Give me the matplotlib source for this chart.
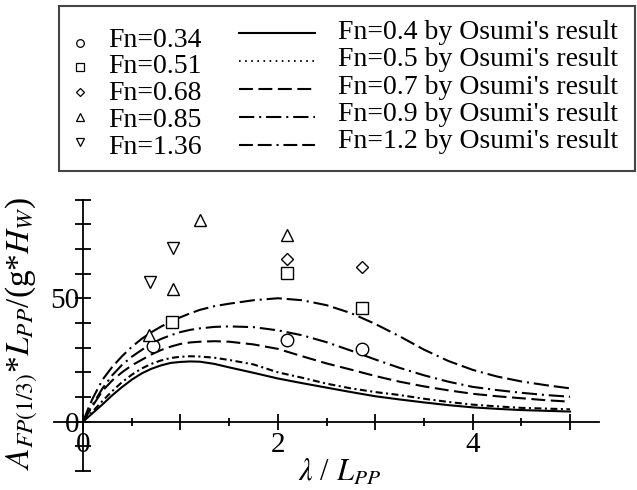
import matplotlib
matplotlib.use("Agg")
import matplotlib.pyplot as plt
from matplotlib.patches import Rectangle
import numpy as np

plt.rcParams['font.family'] = ['Liberation Serif', 'DejaVu Serif']
plt.rcParams['mathtext.fontset'] = 'stix'
plt.rcParams['lines.scale_dashes'] = False

# experiment points (lambda/Lpp, A*Lpp/(g*Hw))
exp_labels = ["Fn=0.34", "Fn=0.51", "Fn=0.68", "Fn=0.85", "Fn=1.36"]
exp_markers = ["o", "s", "D", "^", "v"]
lam_034 = [0.72, 2.09, 2.86]
amp_034 = [30.8, 33.1, 29.3]
lam_051 = [0.91, 2.09, 2.86]
amp_051 = [40.5, 60.1, 45.9]
lam_068 = [2.09, 2.86]
amp_068 = [65.8, 62.6]
lam_085 = [0.68, 0.92, 1.20, 2.09]
amp_085 = [35.1, 53.6, 81.7, 75.6]
lam_136 = [0.69, 0.92]
amp_136 = [56.7, 70.3]

# Osumi's result curves
lam_osumi = [0, 0.05, 0.1, 0.2, 0.3, 0.4, 0.5, 0.6, 0.7, 0.8, 0.9, 1.0, 1.1, 1.2, 1.35,
             1.5, 1.75, 2.0, 2.25, 2.5, 2.75, 3.0, 3.25, 3.5, 3.75, 4.0, 4.25, 4.5, 4.75, 5.0]
osumi_04 = [0, 1.8, 3.5, 7.0, 10.7, 14.0, 17.0, 19.5, 21.4, 22.8, 23.8, 24.2, 24.4, 24.3, 23.4,
            22.0, 19.8, 17.5, 15.6, 13.8, 12.0, 10.3, 9.0, 7.8, 6.7, 5.8, 5.2, 4.7, 4.4, 4.1]
osumi_05 = [0, 2.1, 4.2, 8.4, 12.4, 16.0, 19.0, 21.5, 23.4, 24.8, 25.8, 26.3, 26.5, 26.4, 25.9,
            25.0, 23.2, 20.0, 17.8, 15.4, 13.5, 12.0, 10.8, 9.3, 8.0, 6.9, 6.2, 5.6, 5.3, 5.0]
osumi_07 = [0, 3.3, 6.5, 12.5, 16.7, 20.0, 22.8, 25.0, 27.2, 29.0, 30.4, 31.5, 32.1, 32.4, 32.6,
            32.4, 31.3, 29.5, 26.5, 23.6, 21.1, 18.5, 16.2, 14.3, 12.7, 11.3, 10.3, 9.5, 8.7, 8.1]
osumi_09 = [0, 3.6, 7.0, 13.5, 18.8, 23.0, 26.3, 29.0, 31.5, 33.5, 35.0, 36.3, 37.2, 37.8, 38.4,
            38.6, 38.3, 37.0, 35.0, 32.2, 28.8, 25.2, 21.8, 18.8, 16.2, 14.1, 12.8, 11.7, 10.8, 10.1]
osumi_12 = [0, 5.0, 9.5, 17.0, 22.2, 26.5, 30.3, 33.5, 36.2, 38.5, 40.5, 42.3, 43.9, 45.3, 46.8,
            47.8, 49.2, 50.0, 49.2, 47.2, 44.0, 39.6, 34.6, 29.2, 24.6, 21.0, 18.3, 16.3, 14.8, 13.5]
osumi_labels = ["Fn=0.4 by Osumi's result", "Fn=0.5 by Osumi's result",
                "Fn=0.7 by Osumi's result", "Fn=0.9 by Osumi's result",
                "Fn=1.2 by Osumi's result"]

exp_x = [lam_034, lam_051, lam_068, lam_085, lam_136]
exp_y = [amp_034, amp_051, amp_068, amp_085, amp_136]
osumi_y = [osumi_04, osumi_05, osumi_07, osumi_09, osumi_12]

curve_styles = ['-', (0, (5, 2.5, 1.5, 2.5)), (0, (10, 4)),
                (0, (11, 3.5, 1.5, 3.5)), (0, (11, 3.5, 11, 3.5, 1.5, 3.5))]
legend_styles = ['-', (0, (1.2, 3.2)), (0, (10, 4)),
                 (0, (11, 3.5, 1.5, 3.5)), (0, (10, 3.5, 10, 3.5, 1.5, 3.5))]
exp_ms = [9, 8, 6.5, 9, 9]

fig = plt.figure(figsize=(6.37, 4.9), dpi=100)
ax = fig.add_axes([0.0386, 0.0135, 0.948, 0.6045])

for ys, st in zip(osumi_y, curve_styles):
    ax.plot(lam_osumi, ys, color='black', lw=1.5, linestyle=st)
for xs, ys, m, ms in zip(exp_x, exp_y, exp_markers, exp_ms):
    ax.plot(xs, ys, linestyle='none', marker=m, ms=ms, mfc='white',
            mec='black', mew=1.0)

ax.set_xlim(-0.6, 5.6)
ax.set_ylim(-25, 95)
for s in ['top', 'right']:
    ax.spines[s].set_visible(False)
ax.spines['left'].set_position(('data', 0))
ax.spines['bottom'].set_position(('data', 0))
ax.spines['left'].set_bounds(-20, 90)
ax.spines['bottom'].set_bounds(-0.3, 5.3)
for s in ['left', 'bottom']:
    ax.spines[s].set_linewidth(1.3)
ax.set_facecolor('none')

ax.set_xticks(np.arange(0, 6, 1))
ax.set_xticklabels(['0', '', '2', '', '4', ''])
ax.set_xticks(np.arange(0.5, 5, 1), minor=True)
ax.set_yticks(np.arange(-20, 100, 10))
ax.set_yticklabels(['' if v not in (0, 50) else str(v) for v in range(-20, 100, 10)])
ax.tick_params(axis='x', which='major', direction='inout', length=11.5, width=1.3,
               labelsize=21, pad=1.5)
ax.tick_params(axis='x', which='minor', direction='inout', length=6, width=1.3)
ax.tick_params(axis='y', direction='inout', length=11, width=1.3, labelsize=21, pad=-2.6)

fig.text(22 / 637, 1 - 333 / 490, r'$A_{FP(1/3)}$*$L_{PP}$/(g*$H_W$)',
         rotation=90, ha='center', va='center', fontsize=24)
fig.text(339 / 637, 1 - 473 / 490, r'$\lambda$ / $L_{PP}$',
         ha='center', va='center', fontsize=22)

# legend box drawn in pixel coordinates
lg = fig.add_axes([0, 0, 1, 1])
lg.set_xlim(0, 637)
lg.set_ylim(490, 0)
lg.axis('off')
lg.add_patch(Rectangle((59, 5.7), 576, 165.3, fill=False, edgecolor='#444444', lw=1.5))
for i, (lab, m) in enumerate(zip(exp_labels, exp_markers)):
    lg.plot([80], [42.7 + i * 24.75], marker=m, ms=5.5 if m != 'D' else 4.2,
            mfc='white', mec='black', mew=0.9)
    lg.text(108, 46.7 + i * 26.7, lab, fontsize=20, va='baseline', ha='left')
for i, (lab, st) in enumerate(zip(osumi_labels, legend_styles)):
    lg.plot([239, 315], [33.3 + i * 27.9] * 2, color='black', lw=1.5 if i != 1 else 1.3,
            linestyle=st)
    lg.text(338, 39.3 + i * 27.1, lab, fontsize=20, va='baseline', ha='left')

fig.savefig("out.png", dpi=100)
